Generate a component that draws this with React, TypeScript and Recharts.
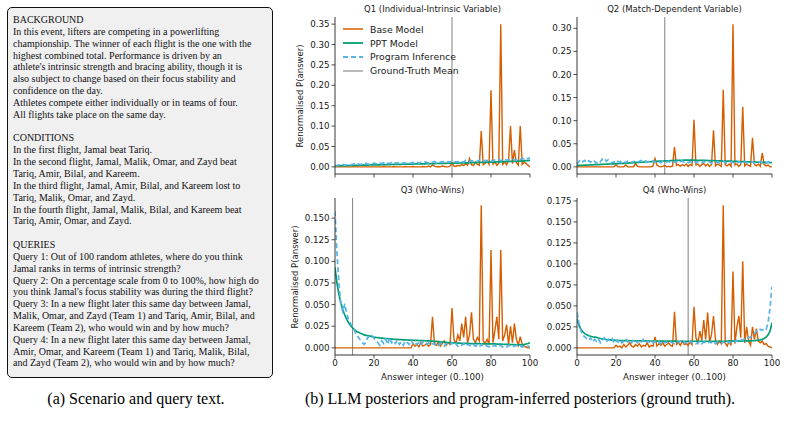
import React from 'react';
import { LineChart, Line, XAxis, YAxis, ReferenceLine } from 'recharts';

// ---------- categories ----------
const answers: number[] = Array.from({ length: 101 }, (_, i) => i);
const xTicks = [0, 20, 40, 60, 80, 100];

// ---------- Q1 (Individual-Intrinsic Variable) ----------
const q1Base = [
  0,0,0,0,0,0,0,0,0,0,
  0,0,0,0,0,0,0,0,0,0,
  0,0,0,0,0,.001,0,0,0,0,
  .001,0,0,0,0,0,.001,0,0,0,
  .001,0,0,0,0,.001,0,0,.002,0,
  .005,.002,0,.001,0,.002,.001,0,0,.002,
  .010,.002,.001,.004,.002,.006,.003,.008,.004,.020,
  .005,.003,.012,.006,.004,.088,.005,.008,.015,.006,
  .188,.007,.012,.004,.009,.350,.006,.012,.005,.015,
  .100,.008,.041,.010,.004,.100,.006,.012,.008,.004,
  0,
];
const q1Ppt = [
  .0025,.0026,.0027,.0029,.0030,.0031,.0032,.0033,.0034,.0036,
  .0037,.0038,.0039,.0040,.0041,.0042,.0044,.0045,.0046,.0047,
  .0048,.0049,.0050,.0051,.0052,.0054,.0055,.0056,.0057,.0058,
  .0059,.0060,.0061,.0062,.0063,.0064,.0065,.0066,.0067,.0068,
  .0069,.0070,.0071,.0072,.0073,.0074,.0075,.0076,.0077,.0078,
  .0080,.0081,.0082,.0083,.0084,.0085,.0086,.0087,.0088,.0089,
  .0090,.0092,.0093,.0094,.0095,.0096,.0098,.0099,.0100,.0101,
  .0103,.0104,.0105,.0107,.0108,.0109,.0111,.0112,.0114,.0115,
  .0117,.0118,.0120,.0121,.0123,.0124,.0126,.0128,.0129,.0131,
  .0133,.0135,.0137,.0139,.0141,.0143,.0146,.0149,.0152,.0155,
  .0160,
];
const q1Prog = [
  .004,.003,.005,.004,.006,.004,.005,.007,.005,.006,
  .008,.006,.007,.005,.008,.007,.009,.006,.008,.007,
  .009,.008,.006,.009,.008,.010,.007,.009,.008,.010,
  .008,.010,.009,.011,.008,.010,.009,.011,.010,.009,
  .011,.010,.012,.009,.011,.010,.012,.011,.010,.012,
  .011,.013,.010,.012,.011,.013,.012,.011,.013,.012,
  .014,.011,.013,.012,.015,.013,.012,.016,.014,.013,
  .015,.014,.016,.013,.017,.015,.014,.016,.015,.017,
  .016,.014,.017,.016,.018,.015,.017,.019,.016,.018,
  .017,.019,.018,.016,.020,.018,.021,.019,.022,.020,
  .023,
];
const q1Truth = 60;
const q1Ticks = [0, 0.05, 0.1, 0.15, 0.2, 0.25, 0.3, 0.35];

// ---------- Q2 (Match-Dependent Variable) ----------
const q2Base = [
  0,0,0,0,0,0,0,0,0,0,
  0,0,0,0,0,0,0,0,0,0,
  .005,0,0,0,0,.004,0,0,0,0,
  .007,.001,0,0,0,0,0,0,0,.002,
  .018,.004,.001,0,.001,.003,0,.001,0,.002,
  .043,.003,.005,.001,.005,.002,.006,.001,.005,.003,
  .102,.004,.006,.001,.005,.007,.002,.006,.001,.005,
  .079,.002,.006,.004,.001,.167,.005,.002,.006,.001,
  .309,.004,.006,.001,.005,.130,.002,.006,.003,.001,
  .063,.005,.002,.006,.001,.030,.005,.002,.004,0,
  0,
];
const q2Ppt = [
  .0030,.0030,.0032,.0034,.0036,.0038,.0040,.0042,.0044,.0046,
  .0048,.0050,.0052,.0054,.0056,.0058,.0060,.0062,.0064,.0066,
  .0068,.0070,.0072,.0075,.0077,.0080,.0082,.0085,.0087,.0090,
  .0092,.0095,.0097,.0100,.0102,.0105,.0107,.0110,.0112,.0115,
  .0117,.0120,.0122,.0124,.0126,.0128,.0130,.0132,.0134,.0136,
  .0138,.0140,.0141,.0142,.0143,.0144,.0145,.0145,.0145,.0145,
  .0144,.0143,.0142,.0141,.0140,.0139,.0138,.0137,.0136,.0135,
  .0134,.0132,.0131,.0130,.0129,.0127,.0126,.0125,.0123,.0122,
  .0121,.0119,.0118,.0116,.0115,.0113,.0112,.0110,.0109,.0107,
  .0106,.0104,.0103,.0101,.0100,.0098,.0097,.0095,.0094,.0092,
  .0090,
];
const q2Prog = [
  .006,.012,.016,.011,.014,.009,.013,.010,.015,.012,
  .008,.013,.011,.017,.019,.012,.015,.010,.009,.011,
  .008,.012,.010,.014,.011,.009,.013,.012,.010,.011,
  .013,.010,.012,.014,.011,.013,.010,.012,.011,.013,
  .010,.012,.011,.009,.013,.011,.010,.012,.009,.011,
  .010,.012,.009,.011,.013,.010,.012,.009,.011,.010,
  .012,.009,.011,.010,.008,.012,.010,.009,.011,.008,
  .010,.009,.011,.008,.010,.012,.009,.008,.010,.011,
  .009,.010,.008,.011,.009,.010,.012,.008,.010,.009,
  .011,.008,.010,.009,.012,.009,.010,.008,.011,.009,
  .010,
];
const q2Truth = 45;
const q2Ticks = [0, 0.05, 0.1, 0.15, 0.2, 0.25, 0.3];

// ---------- Q3 (Who-Wins) ----------
const q3Base = [
  0,0,0,0,0,0,0,0,0,0,
  0,0,0,0,0,0,0,0,0,0,
  0,0,0,0,0,0,0,0,0,0,
  0,0,0,0,0,0,0,0,0,0,
  .005,.002,.004,.001,.006,.002,.003,.005,.002,.004,
  .036,.004,.003,.007,.002,.005,.008,.003,.006,.004,
  .046,.010,.005,.015,.008,.028,.012,.036,.006,.015,
  .041,.010,.006,.012,.008,.165,.008,.005,.010,.004,
  .113,.006,.020,.036,.010,.113,.008,.015,.027,.004,
  .025,.006,.028,.010,.003,.013,.004,.002,.001,0,
  0,
];
const q3Ppt = [
  .093,.075,.062,.052,.044,.038,.033,.029,.026,.023,
  .021,.019,.018,.017,.016,.015,.0145,.014,.0135,.013,
  .0125,.0121,.0118,.0115,.0113,.0110,.0108,.0106,.0104,.0102,
  .0100,.0099,.0097,.0096,.0095,.0093,.0092,.0091,.0090,.0089,
  .0088,.0087,.0086,.0085,.0084,.0083,.0082,.0081,.0080,.0079,
  .0078,.0076,.0074,.0072,.0070,.0068,.0066,.0064,.0062,.0060,
  .0058,.0057,.0056,.0055,.0054,.0053,.0052,.0052,.0051,.0050,
  .0050,.0049,.0049,.0048,.0048,.0047,.0047,.0047,.0046,.0046,
  .0046,.0045,.0045,.0044,.0043,.0043,.0042,.0041,.0040,.0040,
  .0039,.0038,.0037,.0036,.0035,.0035,.0037,.0040,.0045,.0050,
  .0060,
];
const q3Prog = [
  .158,.110,.075,.050,.042,.051,.040,.032,.028,.025,
  .020,.015,.012,.009,.006,.004,.008,.013,.012,.014,
  .011,.009,.006,.003,.008,.005,.010,.004,.012,.006,
  .008,.005,.009,.004,.007,.003,.008,.006,.004,.009,
  .005,.007,.004,.006,.003,.007,.005,.004,.006,.003,
  .005,.004,.006,.003,.005,.004,.002,.005,.004,.003,
  .006,.003,.005,.002,.004,.003,.005,.002,.004,.003,
  .002,.004,.002,.003,.001,.004,.002,.003,.002,.001,
  .003,.002,.003,.001,.002,.003,.001,.002,.001,.003,
  .002,.001,.002,.003,.001,.002,.001,.002,.001,.002,
  .001,
];
const q3Truth = 9;
const q3Ticks = [0, 0.025, 0.05, 0.075, 0.1, 0.125, 0.15];

// ---------- Q4 (Who-Wins) ----------
const q4Base = [
  0,0,0,0,0,0,0,0,0,0,
  0,0,0,0,0,0,0,0,0,0,
  .003,.001,.002,0,.004,.001,.003,.006,.002,.001,
  .004,.002,.005,.001,.003,.002,.006,.001,.003,.002,
  .013,.002,.005,.003,.006,.002,.004,.006,.003,.002,
  .043,.004,.006,.003,.008,.004,.005,.003,.007,.004,
  .049,.012,.006,.020,.009,.033,.010,.042,.007,.016,
  .038,.010,.004,.008,.005,.170,.006,.002,.008,.003,
  .091,.005,.025,.038,.012,.103,.006,.025,.008,.003,
  .025,.010,.023,.008,.006,.008,.004,.005,.002,.001,
  0,
];
const q4Ppt = [
  .035,.027,.022,.019,.017,.0155,.0145,.0138,.0132,.0128,
  .0124,.0118,.0112,.0107,.0103,.0100,.0097,.0095,.0093,.0091,
  .0090,.0089,.0088,.0087,.0087,.0086,.0086,.0085,.0085,.0085,
  .0084,.0084,.0084,.0083,.0083,.0083,.0083,.0082,.0082,.0082,
  .0082,.0081,.0081,.0081,.0081,.0081,.0080,.0080,.0080,.0080,
  .0080,.0080,.0079,.0079,.0079,.0079,.0079,.0079,.0079,.0079,
  .0079,.0079,.0079,.0079,.0079,.0079,.0079,.0079,.0079,.0079,
  .0079,.0079,.0079,.0079,.0079,.0079,.0079,.0080,.0080,.0080,
  .0080,.0080,.0081,.0081,.0081,.0082,.0082,.0083,.0083,.0084,
  .0085,.0087,.0089,.0092,.0096,.0102,.0112,.0128,.0155,.0200,
  .0300,
];
const q4Prog = [
  .042,.030,.020,.015,.013,.011,.009,.012,.007,.010,
  .008,.011,.006,.009,.012,.007,.010,.008,.011,.006,
  .009,.007,.010,.006,.008,.011,.007,.009,.006,.010,
  .008,.006,.009,.007,.010,.006,.008,.007,.009,.006,
  .008,.006,.007,.005,.008,.006,.007,.005,.007,.006,
  .005,.007,.006,.008,.005,.007,.006,.005,.008,.006,
  .007,.005,.006,.008,.005,.007,.006,.005,.007,.006,
  .008,.005,.007,.006,.005,.007,.006,.008,.006,.007,
  .008,.007,.009,.008,.010,.009,.011,.010,.012,.013,
  .015,.017,.020,.019,.022,.021,.023,.022,.030,.048,
  .073,
];
const q4Truth = 57;
const q4Ticks = [0, 0.025, 0.05, 0.075, 0.1, 0.125, 0.15, 0.175];

// ---------- text ----------
const scenarioLines = [
  'BACKGROUND',
  'In this event, lifters are competing in a powerlifting',
  'championship. The winner of each flight is the one with the',
  'highest combined total. Performance is driven by an',
  "athlete's intrinsic strength and bracing ability, though it is",
  'also subject to change based on their focus stability and',
  'confidence on the day.',
  'Athletes compete either individually or in teams of four.',
  'All flights take place on the same day.',
  '',
  'CONDITIONS',
  'In the first flight, Jamal beat Tariq.',
  'In the second flight, Jamal, Malik, Omar, and Zayd beat',
  'Tariq, Amir, Bilal, and Kareem.',
  'In the third flight, Jamal, Amir, Bilal, and Kareem lost to',
  'Tariq, Malik, Omar, and Zayd.',
  'In the fourth flight, Jamal, Malik, Bilal, and Kareem beat',
  'Tariq, Amir, Omar, and Zayd.',
  '',
  'QUERIES',
  'Query 1: Out of 100 random athletes, where do you think',
  'Jamal ranks in terms of intrinsic strength?',
  'Query 2: On a percentage scale from 0 to 100%, how high do',
  "you think Jamal's focus stability was during the third flight?",
  'Query 3: In a new flight later this same day between Jamal,',
  'Malik, Omar, and Zayd (Team 1) and Tariq, Amir, Bilal, and',
  'Kareem (Team 2), who would win and by how much?',
  'Query 4: In a new flight later this same day between Jamal,',
  'Amir, Omar, and Kareem (Team 1) and Tariq, Malik, Bilal,',
  'and Zayd (Team 2), who would win and by how much?',
];
const captionA = '(a) Scenario and query text.';
const captionB = '(b) LLM posteriors and program-inferred posteriors (ground truth).';
const yLabel = 'Renormalised P(answer)';
const xLabel = 'Answer integer (0..100)';

const COLORS = { base: '#d55e00', ppt: '#029e73', prog: '#56b4e9', truth: '#8c8c8c' };
const legendItems = [
  { name: 'Base Model', color: COLORS.base, dash: undefined as string | undefined, w: 1.5 },
  { name: 'PPT Model', color: COLORS.ppt, dash: undefined as string | undefined, w: 1.8 },
  { name: 'Program Inference', color: COLORS.prog, dash: '5 3', w: 1.8 },
  { name: 'Ground-Truth Mean', color: COLORS.truth, dash: undefined as string | undefined, w: 1.2 },
];

const FONT = "'DejaVu Sans', sans-serif";
const SERIF = "'Liberation Serif', serif";
const TXT = '#1a1a1a';

function buildRows(base: number[], ppt: number[], prog: number[]) {
  return answers.map((a, i) => ({ x: a, base: base[i], ppt: ppt[i], prog: prog[i] }));
}

type PanelProps = {
  plotLeft: number;
  plotTop: number;
  title: string;
  rows: any[];
  yDomain: [number, number];
  yTicks: number[];
  digits: number;
  truth: number;
  showX: boolean;
  yLabelX?: number;
  legend?: boolean;
};

const Y_W = 62;
const PLOT_W = 195;
const PLOT_H = 157;
const TOP_M = 17;
const XA_H = 30;

function Panel(p: PanelProps) {
  const W = Y_W + PLOT_W + 8;
  const H = TOP_M + PLOT_H + XA_H;
  const tickStyle = { fontFamily: FONT, fontSize: 8.7, fill: TXT };
  return (
    <div style={{ position: 'absolute', left: p.plotLeft - Y_W, top: p.plotTop - TOP_M, width: W, height: H }}>
      <div
        style={{
          position: 'absolute', left: Y_W - 40, width: PLOT_W + 80, top: 4, textAlign: 'center',
          fontFamily: FONT, fontSize: 8.5, lineHeight: '11px', color: TXT, whiteSpace: 'nowrap',
        }}
      >
        {p.title}
      </div>
      <LineChart width={W} height={H} data={p.rows} margin={{ top: TOP_M, right: 8, left: 0, bottom: 0 }}>
        <XAxis
          dataKey="x"
          type="number"
          domain={[0, 100]}
          ticks={xTicks}
          allowDataOverflow
          height={XA_H}
          tickSize={3.5}
          tickMargin={1}
          stroke="#222"
          tickLine={{ stroke: '#222', strokeWidth: 0.8 }}
          axisLine={{ stroke: '#222', strokeWidth: 0.9 }}
          tick={tickStyle}
          tickFormatter={(v: number) => (p.showX ? String(v) : '')}
          label={p.showX ? { value: xLabel, position: 'insideBottom', offset: 5, style: { fontFamily: FONT, fontSize: 8.7, fill: TXT } } : undefined}
        />
        <XAxis xAxisId="top" orientation="top" dataKey="x" type="number" domain={[0, 100]} height={0} tick={false} tickLine={false} axisLine={{ stroke: '#222', strokeWidth: 0.9 }} />
        <YAxis
          type="number"
          domain={p.yDomain}
          ticks={p.yTicks}
          allowDataOverflow
          width={Y_W}
          tickSize={3.5}
          tickMargin={2}
          tickLine={{ stroke: '#222', strokeWidth: 0.8 }}
          axisLine={{ stroke: '#222', strokeWidth: 0.9 }}
          tick={tickStyle}
          tickFormatter={(v: number) => v.toFixed(p.digits)}
        />
        <YAxis yAxisId="right" orientation="right" type="number" domain={p.yDomain} width={0} tick={false} tickLine={false} axisLine={{ stroke: '#222', strokeWidth: 0.9 }} />
        <ReferenceLine x={p.truth} stroke={COLORS.truth} strokeWidth={1.1} ifOverflow="hidden" />
        <Line type="linear" dataKey="base" stroke={COLORS.base} strokeWidth={1.4} dot={false} isAnimationActive={false} />
        <Line type="linear" dataKey="ppt" stroke={COLORS.ppt} strokeWidth={1.7} dot={false} isAnimationActive={false} />
        <Line type="linear" dataKey="prog" stroke={COLORS.prog} strokeWidth={1.7} strokeDasharray="5 3" dot={false} isAnimationActive={false} />
      </LineChart>
      {p.yLabelX !== undefined && (
        <div
          style={{
            position: 'absolute', left: p.yLabelX - 70, top: TOP_M + PLOT_H / 2 - 6, width: 140, height: 12,
            textAlign: 'center', fontFamily: FONT, fontSize: 8.5, lineHeight: '12px', color: TXT,
            transform: 'rotate(-90deg)', whiteSpace: 'nowrap',
          }}
        >
          {yLabel}
        </div>
      )}
      {p.legend && (
        <div style={{ position: 'absolute', left: Y_W + 8, top: 22.5, fontFamily: FONT, fontSize: 9.3, color: TXT }}>
          {legendItems.map((it) => (
            <div key={it.name} style={{ display: 'flex', alignItems: 'center', height: 13.8 }}>
              <svg width={20} height={6} style={{ marginRight: 7 }}>
                <line x1={0} y1={3} x2={20} y2={3} stroke={it.color} strokeWidth={it.w} strokeDasharray={it.dash} />
              </svg>
              <span style={{ whiteSpace: 'nowrap' }}>{it.name}</span>
            </div>
          ))}
        </div>
      )}
    </div>
  );
}

export default function App() {
  const r1 = buildRows(q1Base, q1Ppt, q1Prog);
  const r2 = buildRows(q2Base, q2Ppt, q2Prog);
  const r3 = buildRows(q3Base, q3Ppt, q3Prog);
  const r4 = buildRows(q4Base, q4Ppt, q4Prog);
  return (
    <div style={{ position: 'absolute', left: 0, top: 0, width: 787, height: 422, background: '#fff', overflow: 'hidden' }}>
      <div
        style={{
          position: 'absolute', left: 7, top: 7, width: 266, height: 371, boxSizing: 'border-box',
          border: '1.5px solid #111', borderRadius: 5, background: '#f0f0f1',
          padding: '6px 0 0 5px', fontFamily: SERIF, fontSize: 10,
          lineHeight: '11.85px', color: '#111',
        }}
      >
        {scenarioLines.map((l, i) => (
          <div key={i} style={{ whiteSpace: 'nowrap', height: 11.85 }}>{l || '\u00a0'}</div>
        ))}
      </div>
      <div style={{ position: 'absolute', left: 36, width: 200, top: 390, textAlign: 'center', fontFamily: SERIF, fontSize: 16, color: '#000', whiteSpace: 'nowrap' }}>
        {captionA}
      </div>
      <div style={{ position: 'absolute', left: 270, width: 500, top: 390, textAlign: 'center', fontFamily: SERIF, fontSize: 16, color: '#000', whiteSpace: 'nowrap' }}>
        {captionB}
      </div>
      <Panel plotLeft={335} plotTop={17} title="Q1 (Individual-Intrinsic Variable)" rows={r1} yDomain={[-0.0175, 0.3675]} yTicks={q1Ticks} digits={2} truth={q1Truth} showX={false} yLabelX={27} legend />
      <Panel plotLeft={577} plotTop={17} title="Q2 (Match-Dependent Variable)" rows={r2} yDomain={[-0.0155, 0.3245]} yTicks={q2Ticks} digits={2} truth={q2Truth} showX={false} />
      <Panel plotLeft={335} plotTop={198} title="Q3 (Who-Wins)" rows={r3} yDomain={[-0.00825, 0.17325]} yTicks={q3Ticks} digits={3} truth={q3Truth} showX yLabelX={22} />
      <Panel plotLeft={577} plotTop={198} title="Q4 (Who-Wins)" rows={r4} yDomain={[-0.0085, 0.1785]} yTicks={q4Ticks} digits={3} truth={q4Truth} showX />
    </div>
  );
}
